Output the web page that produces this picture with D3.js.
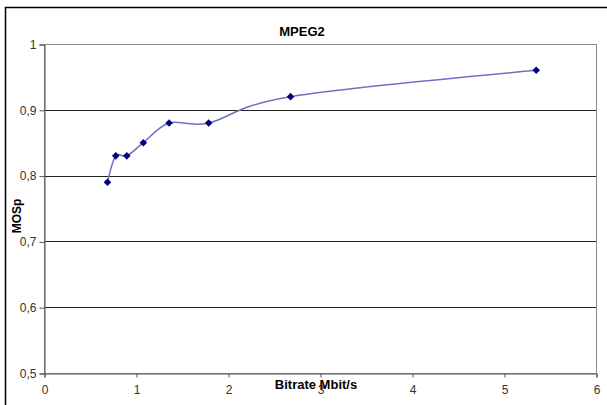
<!DOCTYPE html>
<html>
<head>
<meta charset="utf-8">
<script src="https://cdn.jsdelivr.net/npm/d3@7/dist/d3.min.js"></script>
<style>
  html, body { margin: 0; padding: 0; background: #fff; }
  svg { display: block; font-family: "Liberation Sans", Arial, sans-serif; }
</style>
</head>
<body>
<svg id="chart" width="607" height="405"></svg>
<script>
// MPEG2 perceptual quality versus bitrate
const bitrate = [0.69, 0.78, 0.90, 1.08, 1.36, 1.79, 2.68, 5.35];
const mosp    = [0.79, 0.83, 0.83, 0.85, 0.88, 0.88, 0.92, 0.96];
const xTicks = [0, 1, 2, 3, 4, 5, 6];
const yTicks = [0.5, 0.6, 0.7, 0.8, 0.9, 1.0];

const svg = d3.select("#chart");
const W = 607, H = 405;
const plot = { left: 44, right: 596, top: 44, bottom: 373 };

// outer chart frame
svg.append("rect")
  .attr("x", 5.5).attr("y", 7.5)
  .attr("width", W + 10).attr("height", H + 10)
  .attr("fill", "#fff").attr("stroke", "#000").attr("stroke-width", 1.5);

const x = d3.scaleLinear().domain([0, 6]).range([plot.left, plot.right]);
const y = d3.scaleLinear().domain([0.5, 1]).range([plot.bottom, plot.top]);

const fmt = d => d3.format(".1~f")(d).replace(".", ",");

// horizontal gridlines
svg.append("g").selectAll("line")
  .data(yTicks.filter(v => v > 0.5 && v < 1))
  .join("line")
  .attr("x1", plot.left).attr("x2", plot.right)
  .attr("y1", d => Math.round(y(d)) + 0.5).attr("y2", d => Math.round(y(d)) + 0.5)
  .attr("stroke", "#222").attr("stroke-width", 1);

// plot area border
svg.append("rect")
  .attr("x", plot.left + 0.5).attr("y", plot.top + 0.5)
  .attr("width", plot.right - plot.left).attr("height", plot.bottom - plot.top)
  .attr("fill", "none").attr("stroke", "#8a8a8a").attr("stroke-width", 1);

// axes
const yAxis = svg.append("g")
  .attr("transform", `translate(${plot.left + 0.5},0.5)`)
  .call(d3.axisLeft(y).tickValues(yTicks).tickFormat(fmt).tickSize(5).tickPadding(3));
const xAxis = svg.append("g")
  .attr("transform", `translate(0.5,${plot.bottom + 0.5})`)
  .call(d3.axisBottom(x).tickValues(xTicks).tickFormat(d3.format("d")).tickSize(4).tickPadding(6));

[yAxis, xAxis].forEach(g => {
  g.select(".domain").attr("stroke", "#555");
  g.selectAll(".tick line").attr("stroke", "#555");
  g.selectAll(".tick text")
    .attr("fill", "#333")
    .style("font-size", "12px")
    .style("font-family", "'Liberation Sans', Arial, sans-serif");
});
xAxis.selectAll(".tick text").attr("dy", "0.85em");

// smoothed series line
const pts = bitrate.map((b, i) => [b, mosp[i]]);
const line = d3.line()
  .x(d => x(d[0])).y(d => y(d[1]))
  .curve(d3.curveCardinal.tension(0));
svg.append("path")
  .datum(pts)
  .attr("d", line)
  .attr("fill", "none")
  .attr("stroke", "#6f6fc4")
  .attr("stroke-width", 1.5);

// diamond markers
svg.append("g").selectAll("path")
  .data(pts)
  .join("path")
  .attr("transform", d => `translate(${x(d[0])},${y(d[1])})`)
  .attr("d", "M0,-3.8L3.8,0L0,3.8L-3.8,0Z")
  .attr("fill", "#000080");

// titles
svg.append("text")
  .attr("x", 302).attr("y", 36)
  .attr("text-anchor", "middle")
  .style("font-size", "13px").style("font-weight", "bold")
  .text("MPEG2");

svg.append("text")
  .attr("transform", "translate(21,216) rotate(-90)")
  .attr("text-anchor", "middle")
  .style("font-size", "12px").style("font-weight", "bold")
  .text("MOSp");

svg.append("text")
  .attr("x", 316).attr("y", 389)
  .attr("text-anchor", "middle")
  .style("font-size", "13px").style("font-weight", "bold")
  .text("Bitrate Mbit/s");
</script>
</body>
</html>
